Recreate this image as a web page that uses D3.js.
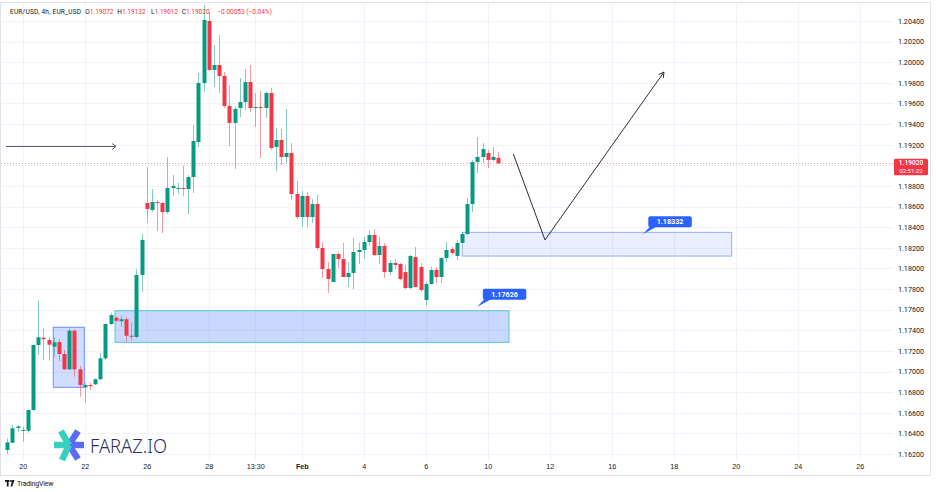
<!DOCTYPE html>
<html><head><meta charset="utf-8">
<script src="https://cdn.jsdelivr.net/npm/d3@7"></script>
<style>
html,body{margin:0;padding:0;background:#fff;}
svg{display:block;font-family:Roboto,"Liberation Sans",Arial,sans-serif;}
</style></head>
<body><svg id="c" width="936" height="492"></svg>
<script>
// ---------- DATA ----------
const symbolTitle = "EUR/USD, 4h, EUR_USD";
const open = [1.16239,1.16310,1.16452,1.16423,1.16426,1.16627,1.17257,1.17328,1.17306,1.17241,
1.17286,1.17170,1.17021,1.17396,1.17021,1.16847,1.16869,1.16876,1.16925,1.17128,
1.17461,1.17522,1.17487,1.17507,1.17347,1.17335,1.17936,1.18635,1.18567,1.18644,
1.18635,1.18547,1.18780,1.18770,1.18780,1.18770,1.18887,1.19226,1.19799,1.20400,
1.19925,1.19973,1.19867,1.19576,1.19411,1.19556,1.19614,1.19808,1.19556,1.19566,
1.19556,1.19702,1.19178,1.19246,1.19081,1.19120,1.18722,1.18499,1.18703,1.18499,
1.18625,1.18198,1.17994,1.17868,1.18140,1.18091,1.17917,1.17956,1.18159,1.18179,
1.18256,1.18324,1.18130,1.18218,1.17965,1.18053,1.18043,1.17965,1.17810,1.18111,
1.18014,1.17694,1.17849,1.17985,1.17917,1.18101,1.18188,1.18121,1.18247,1.18334,
1.18625,1.19032,1.19081,1.19120,1.19052,1.19072];
const high = [1.16352,1.16481,1.16481,1.16465,1.16633,1.17262,1.17687,1.17419,1.17328,1.17332,
1.17318,1.17209,1.17419,1.17410,1.17054,1.16886,1.16892,1.16934,1.17183,1.17468,
1.17571,1.17532,1.17539,1.17526,1.17477,1.17994,1.18334,1.18984,1.18770,1.18664,
1.18644,1.19081,1.18906,1.18829,1.18994,1.18906,1.19391,1.19896,1.20555,1.20487,
1.20167,1.20264,1.19905,1.19779,1.19566,1.19847,1.19934,1.19973,1.19702,1.19721,
1.19711,1.19750,1.19362,1.19352,1.19546,1.19217,1.18848,1.18751,1.18741,1.18673,
1.18712,1.18256,1.18062,1.18140,1.18159,1.18247,1.18062,1.18295,1.18247,1.18305,
1.18373,1.18382,1.18305,1.18247,1.18082,1.18091,1.18053,1.18033,1.18130,1.18208,
1.18053,1.17868,1.18014,1.18014,1.18111,1.18256,1.18208,1.18276,1.18353,1.18683,
1.19052,1.19275,1.19217,1.19149,1.19178,1.19132];
const low = [1.16200,1.16304,1.16416,1.16319,1.16407,1.16617,1.17160,1.17112,1.17105,1.17144,
1.17102,1.17015,1.17015,1.16950,1.16756,1.16698,1.16821,1.16869,1.16918,1.17112,
1.17451,1.17483,1.17435,1.17289,1.17299,1.17325,1.17771,1.18441,1.18547,1.18363,
1.18344,1.18528,1.18703,1.18722,1.18703,1.18528,1.18732,1.19178,1.19711,1.19915,
1.19760,1.19702,1.19556,1.19188,1.18964,1.19469,1.19537,1.19517,1.19372,1.19071,
1.19459,1.19149,1.18945,1.19003,1.19023,1.18664,1.18479,1.18402,1.18402,1.18441,
1.18179,1.17907,1.17762,1.17868,1.18004,1.17917,1.17820,1.17800,1.18043,1.18091,
1.18218,1.18121,1.18043,1.17907,1.17936,1.17994,1.17888,1.17800,1.17800,1.17820,
1.17771,1.17640,1.17839,1.17859,1.17859,1.18062,1.18130,1.18082,1.18247,1.18324,
1.18547,1.18926,1.19023,1.18974,1.19042,1.19012];
const close = [1.16313,1.16449,1.16467,1.16433,1.16627,1.17257,1.17332,1.17313,1.17260,1.17283,
1.17170,1.17021,1.17396,1.17021,1.16869,1.16869,1.16858,1.16925,1.17128,1.17461,
1.17548,1.17493,1.17507,1.17347,1.17338,1.17936,1.18276,1.18576,1.18644,1.18635,
1.18547,1.18780,1.18800,1.18780,1.18770,1.18887,1.19236,1.19799,1.20410,1.19925,
1.19973,1.19867,1.19576,1.19411,1.19546,1.19614,1.19808,1.19556,1.19566,1.19556,
1.19702,1.19168,1.19246,1.19081,1.19120,1.18722,1.18499,1.18703,1.18499,1.18625,
1.18198,1.17994,1.17897,1.18140,1.18091,1.17917,1.17956,1.18159,1.18179,1.18256,
1.18324,1.18130,1.18218,1.17965,1.18053,1.18033,1.17897,1.17810,1.18121,1.17820,
1.17791,1.17849,1.17985,1.17917,1.18101,1.18179,1.18150,1.18247,1.18334,1.18625,
1.19032,1.19081,1.19158,1.19052,1.19081,1.19020];
const prevClose = 1.19073;
const countdown = "02:51:22";

const timeTickIndex = [3,15,27,39,48,57,69,81,93,105,117,129,141,153,165];
const timeTickLabels = ["20","22","26","28","13:30","Feb","4","6","10","12","16","18","20","24","26"];
const priceTicks = [1.162,1.164,1.166,1.168,1.170,1.172,1.174,1.176,1.178,1.180,1.182,1.184,1.186,1.188,1.190,1.192,1.194,1.196,1.198,1.200,1.202,1.204];

// drawings (in bar-index / price units)
const zoneStart  = [8.9, 20.85, 88.06];
const zoneEnd    = [14.9, 97.1, 140.2];
const zoneTop    = [1.17429, 1.17590, 1.18350];
const zoneBottom = [1.16847, 1.17283, 1.18120];
const calloutIndex = [123.0, 90.97];
const calloutPrice = [1.18331, 1.17629];
const calloutText  = ["1.18332", "1.17626"];
const pathIndex = [97.94, 104.07, 127.1];
const pathPrice = [1.19110, 1.18276, 1.19905];
const hArrowIndex = [-0.25, 21.04];
const hArrowPrice = 1.19190;

// ---------- CHART ----------
const W = 936, H = 492;
const plotRight = 893, plotTop = 3, plotBottom = 461;
const UP = "#089981", DOWN = "#f23645";
const svg = d3.select("#c");

const x = d3.scaleLinear().domain([0, 165]).range([7.3, 7.3 + 165 * 31 / 6]);
const y = d3.scaleLinear().domain([1.162, 1.204]).range([454, 21]);
const lastPrice = close[close.length-1];

svg.append("rect").attr("x",0).attr("y",0).attr("width",W).attr("height",H).attr("fill","#fff");

// frame
svg.append("rect").attr("x",0.5).attr("y",2.5).attr("width",930).attr("height",473)
  .attr("fill","none").attr("stroke","#e0e3eb").attr("stroke-width",1);

const defs = svg.append("defs");
defs.append("clipPath").attr("id","plot").append("rect")
  .attr("x",1).attr("y",plotTop).attr("width",plotRight-1).attr("height",plotBottom-plotTop);

// grid
const grid = svg.append("g");
grid.selectAll("line.h").data(priceTicks).join("line")
  .attr("x1",1).attr("x2",plotRight)
  .attr("y1",d=>Math.round(y(d))+0.5).attr("y2",d=>Math.round(y(d))+0.5)
  .attr("stroke","#f0f3fa").attr("stroke-width",1);
grid.selectAll("line.v").data(timeTickIndex).join("line")
  .attr("y1",plotTop).attr("y2",plotBottom)
  .attr("x1",d=>Math.round(x(d))+0.5).attr("x2",d=>Math.round(x(d))+0.5)
  .attr("stroke","#f0f3fa").attr("stroke-width",1);

// right price axis (labels hidden where the last-price tag covers them)
const visiblePriceTicks = priceTicks.filter(p => Math.abs(y(p) - y(lastPrice)) > 9);
const yAxis = d3.axisRight(y).tickValues(visiblePriceTicks).tickSize(0).tickPadding(0)
  .tickFormat(d3.format(".5f"));
const ya = svg.append("g").attr("transform",`translate(911,0)`).call(yAxis);
ya.select(".domain").remove();
ya.selectAll("text").attr("text-anchor","middle").attr("fill","#131722")
  .attr("font-size","7.2px").attr("font-family","Roboto,'Liberation Sans',sans-serif");

// bottom time axis
const xAxis = d3.axisBottom(x).tickValues(timeTickIndex).tickSize(0).tickPadding(0)
  .tickFormat((d,i)=>timeTickLabels[i]);
const xa = svg.append("g").attr("transform",`translate(0,464)`).call(xAxis);
xa.select(".domain").remove();
xa.selectAll("text").attr("fill","#131722").attr("font-size","7.2px")
  .attr("font-weight",(d,i)=>timeTickLabels[i]==="Feb"?"600":"400");

const plot = svg.append("g").attr("clip-path","url(#plot)");

// zones
const zoneFill = ["rgba(41,98,255,0.22)","rgba(41,98,255,0.25)","rgba(41,98,255,0.10)"];
const zoneStroke = ["#6e8ff6","#56c6de","#93aef8"];
plot.selectAll("rect.zone").data(zoneStart).join("rect")
  .attr("x",(d,i)=>x(zoneStart[i])).attr("width",(d,i)=>x(zoneEnd[i])-x(zoneStart[i]))
  .attr("y",(d,i)=>y(zoneTop[i])).attr("height",(d,i)=>y(zoneBottom[i])-y(zoneTop[i]))
  .attr("fill",(d,i)=>zoneFill[i]).attr("stroke",(d,i)=>zoneStroke[i]).attr("stroke-width",1);

// last price line
plot.append("line").attr("x1",1).attr("x2",plotRight)
  .attr("y1",Math.round(y(lastPrice))+0.5).attr("y2",Math.round(y(lastPrice))+0.5)
  .attr("stroke",DOWN).attr("stroke-width",1).attr("stroke-dasharray","1,2").attr("opacity",0.5);

// candles
const bars = d3.range(open.length);
const cg = plot.append("g");
cg.selectAll("line.wick").data(bars).join("line")
  .attr("x1",i=>Math.round(x(i))+0.5).attr("x2",i=>Math.round(x(i))+0.5)
  .attr("y1",i=>y(high[i])).attr("y2",i=>y(low[i]))
  .attr("stroke",i=>close[i]>=open[i]?UP:DOWN).attr("stroke-opacity",0.5).attr("stroke-width",1);
cg.selectAll("rect.body").data(bars).join("rect")
  .attr("x",i=>Math.round(x(i))-1.5).attr("width",4)
  .attr("y",i=>y(Math.max(open[i],close[i])))
  .attr("height",i=>Math.max(1,Math.abs(y(open[i])-y(close[i]))))
  .attr("fill",i=>close[i]>=open[i]?UP:DOWN);

// horizontal arrow
const ax1 = x(hArrowIndex[0]), ax2 = x(hArrowIndex[1]), ay = Math.round(y(hArrowPrice))+0.5;
plot.append("line").attr("x1",ax1).attr("x2",ax2).attr("y1",ay).attr("y2",ay)
  .attr("stroke","#5d606b").attr("stroke-width",1);
plot.append("path").attr("d",`M${ax2-4},${ay-3}L${ax2},${ay}L${ax2-4},${ay+3}`)
  .attr("fill","none").attr("stroke","#5d606b").attr("stroke-width",1);

// projected path with arrow
const pts = pathIndex.map((d,i)=>[x(d), y(pathPrice[i])]);
plot.append("path").attr("d",d3.line()(pts)).attr("fill","none")
  .attr("stroke","#2a2e39").attr("stroke-width",1);
{
  const [px,py] = pts[pts.length-1], [qx,qy] = pts[pts.length-2];
  const ang = Math.atan2(py-qy, px-qx), L = 6, a = 0.5;
  const p1 = [px - L*Math.cos(ang-a), py - L*Math.sin(ang-a)];
  const p2 = [px - L*Math.cos(ang+a), py - L*Math.sin(ang+a)];
  plot.append("path").attr("d",`M${p1}L${px},${py}L${p2}`).attr("fill","none")
    .attr("stroke","#2a2e39").attr("stroke-width",1);
}

// callouts
calloutIndex.forEach((ci,k)=>{
  const cx = x(ci), cy = y(calloutPrice[k]);
  const rx = cx + 5.5, ry = cy - 18, rw = 43.5, rh = 11;
  const g = svg.append("g");
  g.append("path").attr("d",`M${cx},${cy}L${rx+2},${ry+rh-1}L${rx+9},${ry+rh-1}Z`).attr("fill","#2962ff");
  g.append("rect").attr("x",rx).attr("y",ry).attr("width",rw).attr("height",rh).attr("rx",2)
    .attr("fill","#2962ff");
  g.append("text").attr("x",rx+rw/2).attr("y",ry+rh/2+2.5).attr("text-anchor","middle")
    .attr("fill","#fff").attr("font-size","7.2px").attr("font-weight","700").text(calloutText[k]);
});

// last price tag
{
  const ty = y(lastPrice);
  svg.append("rect").attr("x",894).attr("y",ty-4.5).attr("width",34).attr("height",16.5)
    .attr("fill",DOWN).attr("rx",1.5);
  svg.append("text").attr("x",911).attr("y",ty+2.2).attr("text-anchor","middle")
    .attr("fill","#fff").attr("font-size","6.6px").attr("font-weight","600").text(d3.format(".5f")(lastPrice));
  svg.append("text").attr("x",911).attr("y",ty+9.8).attr("text-anchor","middle")
    .attr("fill","#fff").attr("font-size","6px").text(countdown);
}

// header legend
{
  const n = open.length-1;
  const f = d3.format(".5f");
  const chg = close[n]-prevClose;
  const t = svg.append("text").attr("y",13.5).attr("font-size","6.5px").attr("fill","#131722");
  t.append("tspan").attr("x",10).attr("textLength",71).attr("lengthAdjust","spacing").text(symbolTitle);
  const items = [["O",open[n],85.3],["H",high[n],117.3],["L",low[n],151],["C",close[n],181.7]];
  items.forEach(([k,v,px])=>{
    t.append("tspan").attr("x",px).attr("fill","#131722").text(k);
    t.append("tspan").attr("fill",DOWN).text(f(v));
  });
  t.append("tspan").attr("x",217.3).attr("fill",DOWN)
    .text(`\u2212${f(Math.abs(chg))} (\u2212${(Math.abs(chg)/prevClose*100).toFixed(2)}%)`);
}

// FARAZ.IO watermark
{
  const g = svg.append("g").attr("transform","translate(69,445)");
  const arm = (x2,y2,c)=>g.append("line").attr("x1",0).attr("y1",0).attr("x2",x2).attr("y2",y2)
    .attr("stroke",c).attr("stroke-width",6.5).attr("stroke-linecap","butt");
  const TEAL="#35d0c0", BLUE="#5b6cf2";
  arm(9,-14,BLUE); arm(15,0,BLUE); arm(9,14,BLUE);
  arm(-8,-14,TEAL); arm(-15,0,TEAL); arm(-7,15,TEAL);
  svg.append("text").attr("x",90).attr("y",452.5).attr("font-size","20px")
    .attr("font-family","'Noto Sans','Open Sans',sans-serif").attr("font-weight","300")
    .attr("fill","#2b2e5e").attr("textLength",77).attr("lengthAdjust","spacingAndGlyphs").text("FARAZ.IO");
}

// TradingView footer
{
  const g = svg.append("g").attr("fill","#131722");
  g.append("rect").attr("x",5).attr("y",480).attr("width",4.5).attr("height",1.8);
  g.append("rect").attr("x",6.8).attr("y",480).attr("width",1.8).attr("height",6.5);
  g.append("circle").attr("cx",11).attr("cy",481).attr("r",1);
  g.append("path").attr("d","M12.3,480L14.5,480L12.2,486.5L10.5,486.5Z");
  svg.append("text").attr("x",17).attr("y",486).attr("font-size","7px").attr("fill","#131722")
    .attr("font-family","Roboto,sans-serif").attr("letter-spacing","-0.2").text("TradingView");
}
</script></body></html>
